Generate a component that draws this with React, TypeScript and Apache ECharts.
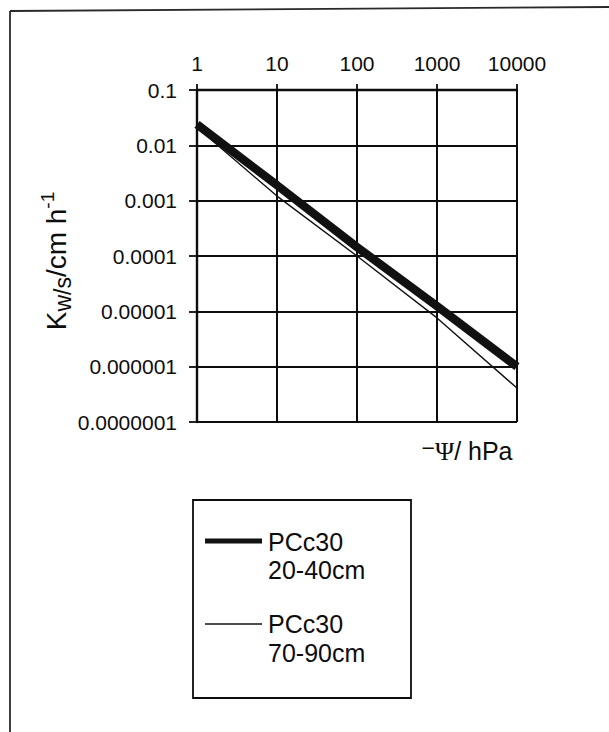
import React, { useEffect, useRef } from "react";
import * as echarts from "echarts";

// ---- data ----
const xTickLabels = ["1", "10", "100", "1000", "10000"];
const yTickLabels = ["0.0000001", "0.000001", "0.00001", "0.0001", "0.001", "0.01", "0.1"];
const suction = [1, 10, 100, 1000, 10000];
const kUpper = [0.024, 0.0019, 0.000145, 0.0000124, 0.000001];
const kLower = [0.021, 0.00121, 0.0001, 0.0000076, 0.00000041];
const seriesNames = ["PCc30 20-40cm", "PCc30 70-90cm"];
const legendTitle = ["PCc30", "PCc30"];
const legendDepth = ["20-40cm", "70-90cm"];

const FONT = "'Liberation Sans', Arial, Helvetica, sans-serif";
const INK = "#0d0d0d";

export default function App() {
  const ref = useRef<HTMLDivElement>(null);
  useEffect(() => {
    if (!ref.current) return;
    const chart = echarts.init(ref.current, null, { renderer: "svg" });
    const toPairs = (ys: number[]) => suction.map((x, i) => [x, ys[i]]);
    chart.setOption({
      animation: false,
      backgroundColor: "#ffffff",
      grid: { left: 197, top: 90, width: 320, height: 332, containLabel: false },
      xAxis: {
        type: "log",
        logBase: 10,
        position: "top",
        min: 1,
        max: 10000,
        splitNumber: 4,
        axisLine: { show: true, onZero: false, lineStyle: { color: INK, width: 2.4 } },
        axisTick: { show: true, length: 6, lineStyle: { color: INK, width: 1.8 } },
        minorTick: { show: false },
        axisLabel: {
          margin: 16,
          fontSize: 21,
          fontFamily: FONT,
          color: INK,
          formatter: (v: number) => xTickLabels[Math.round(Math.log10(v))] ?? "",
        },
        splitLine: { show: true, lineStyle: { color: INK, width: 2 } },
      },
      yAxis: {
        type: "log",
        logBase: 10,
        min: 1e-7,
        max: 0.1,
        splitNumber: 6,
        axisLine: { show: true, onZero: false, lineStyle: { color: INK, width: 2.4 } },
        axisTick: { show: true, length: 8, lineStyle: { color: INK, width: 1.8 } },
        minorTick: { show: false },
        axisLabel: {
          margin: 20,
          fontSize: 21,
          fontFamily: FONT,
          color: INK,
          formatter: (v: number) => yTickLabels[Math.round(Math.log10(v)) + 7] ?? "",
        },
        splitLine: { show: true, lineStyle: { color: INK, width: 1.8 } },
      },
      series: [
        {
          name: seriesNames[0],
          type: "line",
          data: toPairs(kUpper),
          showSymbol: false,
          symbol: "none",
          lineStyle: { color: "#111", width: 8.5, cap: "butt" },
          z: 3,
        },
        {
          name: seriesNames[1],
          type: "line",
          data: toPairs(kLower),
          showSymbol: false,
          symbol: "none",
          lineStyle: { color: "#111", width: 1.4 },
          z: 4,
        },
      ],
      graphic: [
        // outer frame
        { type: "line", shape: { x1: 10, y1: 11, x2: 609, y2: 7 }, style: { stroke: "#2a2a2a", lineWidth: 1.8 } },
        { type: "line", shape: { x1: 10, y1: 11, x2: 10, y2: 732 }, style: { stroke: "#2a2a2a", lineWidth: 1.8 } },
        // y-axis title
        {
          type: "text",
          x: 56,
          y: 261,
          rotation: Math.PI / 2,
          style: {
            text: "{k|K}{s|w/s}{m|/cm h}{p|-1}",
            align: "center",
            verticalAlign: "middle",
            fill: INK,
            rich: {
              k: { fontSize: 28, fontFamily: FONT, fill: INK, lineHeight: 36, verticalAlign: "middle" },
              s: { fontSize: 23, fontFamily: FONT, fill: INK, lineHeight: 26, verticalAlign: "bottom" },
              m: { fontSize: 28, fontFamily: FONT, fill: INK, lineHeight: 36, verticalAlign: "middle" },
              p: { fontSize: 19, fontFamily: FONT, fill: INK, lineHeight: 20, verticalAlign: "top" },
            },
          },
        },
        // x-axis title
        {
          type: "text",
          x: 467,
          y: 451,
          style: {
            text: "{a|−}{b|Ψ}{c|/ hPa}",
            align: "center",
            verticalAlign: "middle",
            fill: INK,
            rich: {
              a: { fontSize: 23, fontFamily: FONT, fill: INK, verticalAlign: "top", lineHeight: 30 },
              b: { fontSize: 26, fontFamily: "'Liberation Serif', 'Times New Roman', serif", fill: INK },
              c: { fontSize: 25, fontFamily: FONT, fill: INK },
            },
          },
        },
        // legend box
        {
          type: "rect",
          shape: { x: 193, y: 500, width: 218, height: 198 },
          style: { fill: "#fff", stroke: INK, lineWidth: 1.8 },
        },
        { type: "line", shape: { x1: 205, y1: 541, x2: 262, y2: 541 }, style: { stroke: "#111", lineWidth: 4.8 } },
        { type: "line", shape: { x1: 205, y1: 624, x2: 262, y2: 624 }, style: { stroke: "#111", lineWidth: 1.3 } },
        {
          type: "text",
          x: 268,
          y: 556,
          style: {
            text: legendTitle[0] + "\n" + legendDepth[0],
            fontSize: 25,
            lineHeight: 28,
            fontFamily: FONT,
            fill: INK,
            align: "left",
            verticalAlign: "middle",
          },
        },
        {
          type: "text",
          x: 268,
          y: 638.5,
          style: {
            text: legendTitle[1] + "\n" + legendDepth[1],
            fontSize: 25,
            lineHeight: 29,
            fontFamily: FONT,
            fill: INK,
            align: "left",
            verticalAlign: "middle",
          },
        },
      ],
    });
    return () => chart.dispose();
  }, []);
  return (
    <div
      ref={ref}
      style={{ position: "fixed", left: 0, top: 0, width: 609, height: 732, background: "#fff" }}
    />
  );
}
